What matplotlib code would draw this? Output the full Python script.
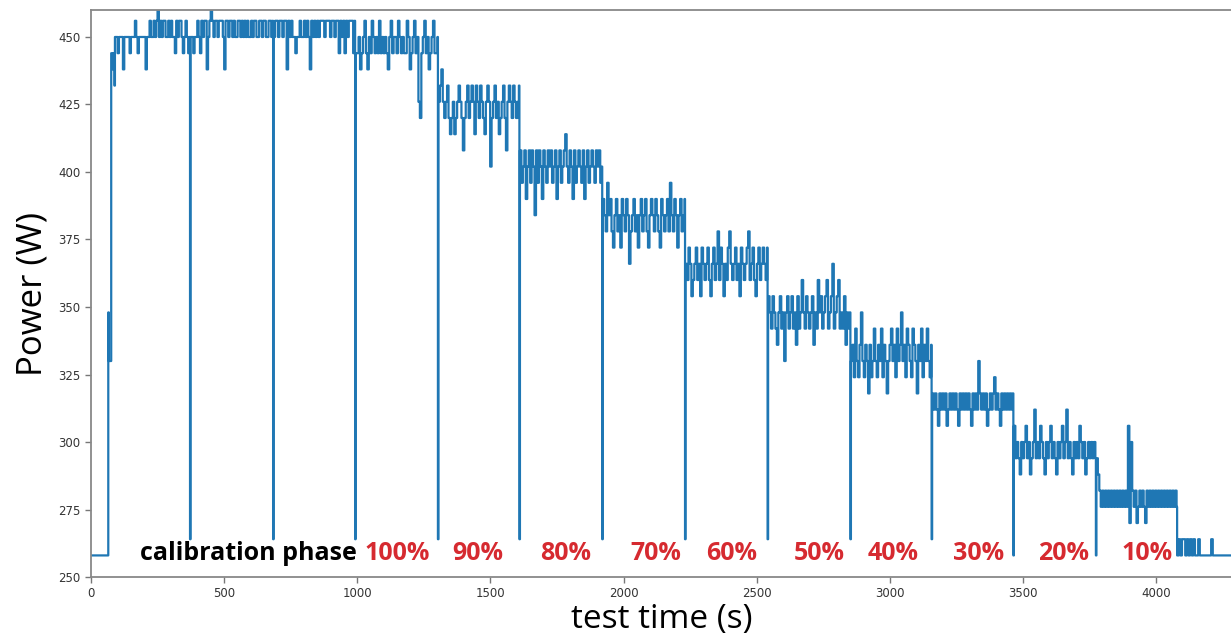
import numpy as np
import matplotlib
matplotlib.use("Agg")
import matplotlib.pyplot as plt

# ---------------- data ----------------
# start-up ramp
start_t = [0, 64, 65, 67, 76, 80, 84, 88]
start_w = [258, 258, 348, 330, 444, 438, 444, 432]

# boundaries of the steady segments (s)
seg_start = [90, 374, 686, 994, 1305, 1611, 1922, 2233, 2543, 2854, 3159, 3466, 3776]
seg_end = [370, 682, 990, 1301, 1607, 1918, 2229, 2539, 2850, 3155, 3462, 3772, 4077]

calib = [450, 450, 444, 450, 450, 450, 438, 450, 450, 450, 450, 444, 450, 450, 450, 456, 450, 444, 450, 450,
         450, 450, 450, 438, 450, 450, 456, 450, 450, 456, 450, 456, 462, 450, 456, 450, 456, 456, 450, 450,
         456, 450, 456, 450, 450, 444, 456, 450, 456, 456, 450, 444, 450, 456, 450, 444, 450]
seg2 = [450, 450, 444, 450, 450, 456, 450, 444, 456, 450, 456, 456, 438, 450, 456, 462, 456, 450, 456, 456,
        450, 456, 456, 456, 450, 438, 456, 456, 450, 456, 456, 450, 456, 450, 450, 456, 456, 450, 456, 450,
        456, 450, 456, 450, 450, 456, 450, 456, 456, 450, 450, 456, 456, 450, 456, 456, 450, 450, 456, 456,
        450, 456]
seg3 = [450, 456, 456, 450, 456, 456, 450, 456, 456, 438, 456, 450, 456, 450, 450, 444, 450, 450, 456, 450,
        450, 456, 450, 456, 450, 438, 456, 450, 456, 450, 456, 450, 456, 456, 456, 450, 456, 456, 456, 450,
        456, 456, 450, 456, 456, 444, 456, 450, 456, 444, 456, 450, 456, 456, 456, 444, 456]
load100 = [444, 444, 450, 438, 444, 450, 456, 444, 438, 450, 444, 456, 450, 444, 450, 444, 456, 444, 450, 444,
           450, 444, 438, 450, 456, 444, 450, 450, 444, 456, 450, 444, 450, 444, 444, 456, 450, 438, 444, 450,
           456, 444, 450, 426, 420, 444, 450, 456, 444, 450, 438, 444, 450, 456, 444, 444, 450]
load90 = [426, 432, 438, 426, 420, 426, 432, 420, 414, 420, 426, 414, 420, 426, 432, 426, 420, 408, 420, 426,
          432, 420, 426, 432, 426, 414, 432, 426, 420, 432, 426, 420, 414, 426, 432, 426, 402, 420, 426, 432,
          420, 426, 414, 420, 426, 432, 420, 408, 426, 432, 426, 420, 432, 426, 420, 426, 432]
load80 = [408, 396, 402, 408, 390, 402, 408, 396, 408, 402, 384, 408, 396, 408, 402, 390, 408, 402, 396, 408,
          402, 408, 396, 402, 408, 390, 402, 408, 396, 402, 408, 414, 402, 396, 408, 402, 390, 408, 396, 402,
          408, 402, 396, 408, 390, 402, 408, 396, 402, 408, 402, 396, 408, 402, 408, 396, 402]
load70 = [390, 384, 378, 396, 384, 390, 378, 372, 384, 390, 378, 384, 372, 390, 384, 378, 390, 384, 366, 378,
          384, 390, 378, 384, 372, 384, 390, 378, 384, 390, 378, 372, 384, 390, 384, 378, 390, 384, 378, 372,
          390, 384, 378, 384, 390, 378, 396, 384, 378, 390, 384, 372, 384, 390, 378, 384, 390]
load60 = [366, 360, 372, 366, 354, 360, 366, 372, 360, 366, 354, 372, 366, 360, 366, 372, 360, 354, 366, 372,
          360, 366, 378, 360, 372, 366, 354, 366, 360, 372, 378, 366, 360, 366, 372, 360, 366, 354, 372, 366,
          360, 366, 372, 378, 360, 366, 372, 360, 354, 366, 372, 360, 366, 372, 366, 360, 372]
load50 = [354, 348, 342, 354, 348, 342, 336, 348, 354, 342, 348, 330, 348, 354, 342, 348, 354, 342, 348, 336,
          354, 342, 348, 360, 348, 342, 354, 348, 342, 348, 354, 336, 348, 342, 360, 348, 354, 342, 348, 354,
          360, 342, 348, 354, 366, 342, 348, 354, 360, 342, 348, 342, 354, 336, 348, 342, 348]
load40 = [330, 336, 324, 342, 330, 324, 336, 348, 330, 324, 336, 330, 318, 336, 324, 330, 342, 330, 324, 336,
          330, 342, 324, 336, 330, 318, 330, 336, 342, 330, 336, 324, 342, 330, 336, 348, 330, 336, 324, 342,
          336, 330, 324, 342, 336, 330, 318, 336, 330, 342, 324, 336, 330, 342, 330, 324, 336]
load30 = [318, 312, 318, 312, 306, 318, 312, 318, 312, 318, 306, 312, 318, 312, 318, 312, 318, 312, 306, 318,
          312, 318, 312, 318, 312, 318, 312, 306, 318, 312, 318, 312, 330, 318, 312, 318, 312, 318, 306, 312,
          318, 312, 318, 324, 312, 318, 312, 306, 318, 312, 318, 312, 318, 312, 318, 312, 318]
load20 = [306, 294, 300, 294, 288, 300, 294, 300, 306, 294, 300, 288, 294, 300, 312, 294, 300, 294, 306, 300,
          294, 288, 300, 294, 300, 306, 294, 300, 294, 288, 300, 294, 300, 306, 294, 300, 312, 294, 300, 294,
          288, 300, 294, 300, 294, 306, 300, 294, 300, 288, 294, 300, 294, 300, 294, 300, 294]
load10 = [294, 288, 282, 276, 282, 276, 282, 276, 282, 276, 282, 276, 282, 276, 282, 276, 282, 276, 282, 276,
          282, 276, 306, 270, 300, 282, 276, 282, 270, 276, 282, 276, 282, 276, 270, 282, 276, 282, 276, 282,
          276, 282, 276, 282, 276, 282, 276, 282, 276, 282, 276, 282, 276, 282, 276, 282, 276]
segments = [calib, seg2, seg3, load100, load90, load80, load70, load60, load50, load40, load30, load20, load10]

# short drops between segments
dip_t = [372, 684, 992, 1303, 1609, 1920, 2231, 2541, 2852, 3157, 3464, 3774]
dip_w = [264, 264, 264, 264, 264, 264, 264, 264, 264, 264, 258, 258]

# idle tail after the test
tail_t0, tail_t1 = 4079, 4286
tail = [258, 264, 258, 264, 264, 258, 264, 258, 264, 258, 264, 258, 258, 264, 258, 258, 258, 258, 258, 258,
        258, 264, 258, 258, 258, 258, 258, 258, 258, 258, 258, 258, 258, 258, 258]

phase_labels = ["calibration phase", "100%", "90%", "80%", "70%", "60%", "50%", "40%", "30%", "20%", "10%"]
label_x = [592, 1150, 1454, 1784, 2122, 2407, 2734, 3011, 3332, 3652, 3966]

# ---------------- assemble the series ----------------
t_all = list(start_t)
w_all = list(start_w)
for i, vals in enumerate(segments):
    ts = np.linspace(seg_start[i], seg_end[i], len(vals))
    t_all.extend(ts)
    w_all.extend(vals)
    if i < len(dip_t):
        t_all.append(dip_t[i])
        w_all.append(dip_w[i])
t_all.extend(np.linspace(tail_t0, tail_t1, len(tail)))
w_all.extend(tail)

# ---------------- plot ----------------
fig = plt.figure(figsize=(12.31, 6.44), dpi=100)
ax = fig.add_axes([0.0739, 0.104, 0.9271, 0.8805])
ax.plot(t_all, w_all, color="#1f77b4", lw=1.6, drawstyle="steps-post")

ax.set_xlim(0, 4286)
ax.set_ylim(250, 460)
ax.set_xticks([0, 500, 1000, 1500, 2000, 2500, 3000, 3500, 4000])
ax.set_yticks([250, 275, 300, 325, 350, 375, 400, 425, 450])
ax.tick_params(labelsize=8.5, colors="#333333", length=4, width=1, color="#777777")
for s in ax.spines.values():
    s.set_color("#888888")
    s.set_linewidth(1.3)

ax.set_xlabel("test time (s)", fontsize=24, family="Open Sans", labelpad=2)
ax.set_ylabel("Power (W)", fontsize=25, family="Open Sans", labelpad=6)

for lab, x in zip(phase_labels, label_x):
    col = "black" if lab.startswith("cal") else "#d62a30"
    ax.text(x, 256.3, lab, ha="center", va="baseline", fontsize=18,
            fontweight="bold", family="Open Sans", color=col)

fig.savefig("out.png", dpi=100)
